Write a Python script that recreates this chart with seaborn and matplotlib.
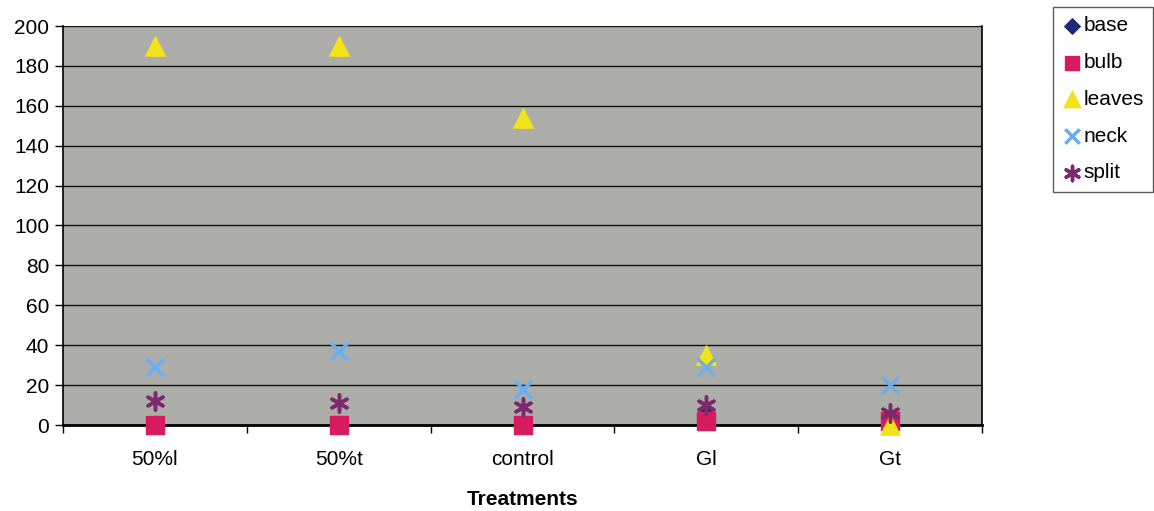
import matplotlib
matplotlib.use("Agg")
import matplotlib.pyplot as plt
import seaborn as sns
import pandas as pd
import numpy as np

treatments = ["50%l", "50%t", "control", "Gl", "Gt"]
base = [0, 0, 0, 5, 0]
bulb = [0, 0, 0, 2, 2]
leaves = [190, 190, 154, 35, 0]
neck = [29, 37, 18, 29, 20]
split = [12, 11, 9, 10, 6]

series = {"base": base, "bulb": bulb, "leaves": leaves, "neck": neck, "split": split}
rows = []
for name, vals in series.items():
    for i, v in enumerate(vals):
        rows.append({"pos": i, "treatment": treatments[i], "value": v, "part": name})
df = pd.DataFrame(rows)

sns.set_theme(style="white")
plt.rcParams["font.family"] = ["Liberation Sans", "DejaVu Sans"]
plt.rcParams["text.color"] = "black"
plt.rcParams["xtick.color"] = "black"
plt.rcParams["ytick.color"] = "black"
plt.rcParams["axes.labelcolor"] = "black"

palette = {"base": "#1c2a78", "bulb": "#d81b60", "leaves": "#f2e21a",
           "neck": "#6aaef0", "split": "#7b2a6e"}
markers = {"base": "D", "bulb": "s", "leaves": "^", "neck": "x", "split": (6, 2, 0)}
sizes = {"base": 90, "bulb": 150, "leaves": 190, "neck": 150, "split": 150}

fig = plt.figure(figsize=(11.54, 5.11), dpi=100)
ax = fig.add_axes([63 / 1154, 1 - 425 / 511, (982 - 63) / 1154, (425 - 26) / 511])
ax.set_facecolor("#acaca8")

for name in series:
    sub = df[df.part == name]
    if name in ("neck", "split"):
        kw = dict(linewidth=2.5)
    else:
        kw = dict(edgecolor=palette[name])
    sns.scatterplot(data=sub, x="pos", y="value", color=palette[name], marker=markers[name],
                    s=sizes[name], ax=ax, label=name, zorder=3, clip_on=False, **kw)

ax.set_xlim(-0.5, 4.5)
ax.set_ylim(0, 200)
ax.set_yticks(np.arange(0, 201, 20))
ax.yaxis.grid(True, color="#111111", linewidth=1.0)
ax.set_axisbelow(True)
ax.set_xticks(np.arange(-0.5, 4.6, 1))
ax.set_xticklabels([])
ax.set_xticks(range(len(treatments)), minor=True)
ax.set_xticklabels(treatments, minor=True)
ax.tick_params(axis="x", which="major", length=6, color="black", width=1, direction="out", bottom=True)
ax.tick_params(axis="x", which="minor", length=0, labelsize=15, pad=18)
ax.tick_params(axis="y", length=6, color="black", width=1, direction="out", left=True, labelsize=15, pad=4)
for sp in ["left", "bottom", "right"]:
    ax.spines[sp].set_visible(True)
    ax.spines[sp].set_color("black")
ax.spines["bottom"].set_linewidth(2)
ax.spines["left"].set_linewidth(1.2)
ax.spines["right"].set_linewidth(1.2)
ax.spines["top"].set_visible(False)
ax.set_xlabel("Treatments", fontsize=15, fontweight="bold", labelpad=15)
ax.set_ylabel("")

handles, labels = ax.get_legend_handles_labels()
if ax.legend_:
    ax.legend_.remove()
leg = fig.legend(handles, labels, loc="upper left", bbox_to_anchor=(1053 / 1154, 1 - 7 / 511),
                 frameon=True, fancybox=False, edgecolor="#333333", fontsize=15,
                 handletextpad=0.1, labelspacing=0.85, borderpad=0.45, handlelength=0.9,
                 markerscale=0.85, borderaxespad=0)
leg.get_frame().set_linewidth(1.0)

fig.savefig("out.png", dpi=100, facecolor="white")
